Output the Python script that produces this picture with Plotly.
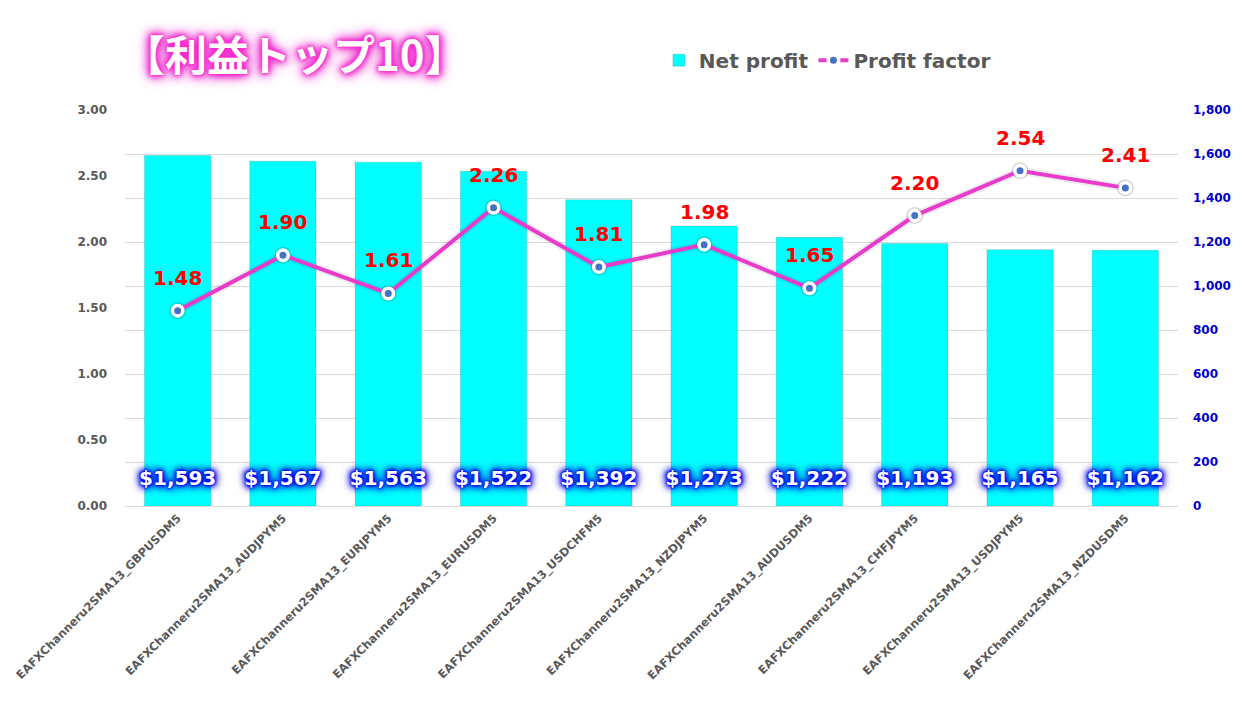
# 利益トップ10 chart: net profit bars + profit factor line
import plotly.graph_objects as go

# ─────────────────────────────────────────────
# DATA
# ─────────────────────────────────────────────

EAS = [
    "EAFXChanneru2SMA13_GBPUSDM5",
    "EAFXChanneru2SMA13_AUDJPYM5",
    "EAFXChanneru2SMA13_EURJPYM5",
    "EAFXChanneru2SMA13_EURUSDM5",
    "EAFXChanneru2SMA13_USDCHFM5",
    "EAFXChanneru2SMA13_NZDJPYM5",
    "EAFXChanneru2SMA13_AUDUSDM5",
    "EAFXChanneru2SMA13_CHFJPYM5",
    "EAFXChanneru2SMA13_USDJPYM5",
    "EAFXChanneru2SMA13_NZDUSDM5",
]
NET_PROFIT = [1593, 1567, 1563, 1522, 1392, 1273, 1222, 1193, 1165, 1162]
PROFIT_FACTOR = [1.48, 1.90, 1.61, 2.26, 1.81, 1.98, 1.65, 2.20, 2.54, 2.41]

LEFT_TICKS = [0, 0.5, 1.0, 1.5, 2.0, 2.5, 3.0]
RIGHT_TICKS = [0, 200, 400, 600, 800, 1000, 1200, 1400, 1600, 1800]

FONT = "DejaVu Sans, Verdana, sans-serif"
GREY = "#595959"

fig = go.Figure()

# bars (primary axis, drawn on the right side)
fig.add_trace(go.Bar(
    x=EAS,
    y=NET_PROFIT,
    name="Net profit",
    marker=dict(color="#00FFFF", line=dict(color="rgba(0,0,0,0.12)", width=1)),
    yaxis="y",
))

# dollar labels near the bottom of each bar
fig.add_trace(go.Scatter(
    x=EAS,
    y=[118] * len(EAS),
    mode="text",
    text=[f"${v:,}" for v in NET_PROFIT],
    textfont=dict(family=FONT, size=20, color="white", weight="bold",
                  shadow="0 0 2px #0000FF, 0 0 3px #0000FF, 0 0 5px #0000EE, "
                         "0 0 7px #0000DD, 0 0 9px #0000CC, 0 0 11px #0000CC"),
    showlegend=False,
    hoverinfo="skip",
    yaxis="y",
))

# soft shadow under the line and its markers
fig.add_trace(go.Scatter(
    x=EAS,
    y=PROFIT_FACTOR,
    mode="lines+markers",
    line=dict(color="rgba(0,0,0,0.07)", width=8),
    marker=dict(color="rgba(0,0,0,0.16)", size=17),
    showlegend=False,
    hoverinfo="skip",
    yaxis="y2",
))

# profit factor line (overlay axis, drawn on the left side, on top)
fig.add_trace(go.Scatter(
    x=EAS,
    y=PROFIT_FACTOR,
    name="Profit factor",
    mode="lines+markers",
    line=dict(color="#E83ACB", width=4),
    marker=dict(color="#4472C4", size=10.5, line=dict(color="white", width=3.5)),
    yaxis="y2",
))

# red value labels above the points
for name, pf in zip(EAS, PROFIT_FACTOR):
    fig.add_annotation(
        x=name, y=pf, xref="x", yref="y2",
        text=f"{pf:.2f}",
        showarrow=False,
        yshift=33,
        font=dict(family=FONT, size=20, color="#FF0000", weight="bold"),
    )

fig.update_layout(
    width=1249,
    height=697,
    paper_bgcolor="white",
    plot_bgcolor="white",
    font=dict(family=FONT, color=GREY),
    margin=dict(l=117, r=79, t=102, b=199, autoexpand=False),
    bargap=0.37,
    title=dict(
        text="【利益トップ10】",
        x=0.092, xanchor="left",
        y=0.93, yanchor="middle",
        font=dict(family="Noto Sans CJK JP, " + FONT, size=42, color="white", weight="bold",
                  shadow="0 0 3px #FF22CC, 0 0 5px #FF22CC, 0 0 8px #F020D0, "
                         "0 0 11px #E81EC8, 0 0 15px #E81EC8"),
    ),
    legend=dict(
        orientation="h",
        x=0.507, xanchor="left",
        y=0.925, yanchor="middle",
        yref="container",
        font=dict(family=FONT, size=20, color=GREY, weight="bold"),
        bgcolor="rgba(0,0,0,0)",
        itemwidth=30,
    ),
    xaxis=dict(
        range=[-0.5, len(EAS) - 0.5],
        tickangle=-45,
        tickfont=dict(family=FONT, size=11.5, color=GREY, weight="bold"),
        showline=True,
        linecolor="#D9D9D9",
        showgrid=False,
        automargin=False,
    ),
    yaxis=dict(
        side="right",
        range=[0, 1800],
        tickvals=RIGHT_TICKS,
        tickformat=",",
        tickfont=dict(family=FONT, size=12, color="#0000CC", weight="bold"),
        showgrid=True,
        gridcolor="#D9D9D9",
        zeroline=False,
        ticklabelstandoff=14,
        automargin=False,
    ),
    yaxis2=dict(
        overlaying="y",
        side="left",
        range=[0, 3],
        tickvals=LEFT_TICKS,
        tickformat=".2f",
        tickfont=dict(family=FONT, size=12, color=GREY, weight="bold"),
        showgrid=False,
        zeroline=False,
        ticklabelstandoff=17,
        automargin=False,
    ),
)

fig.write_html("out.html")
